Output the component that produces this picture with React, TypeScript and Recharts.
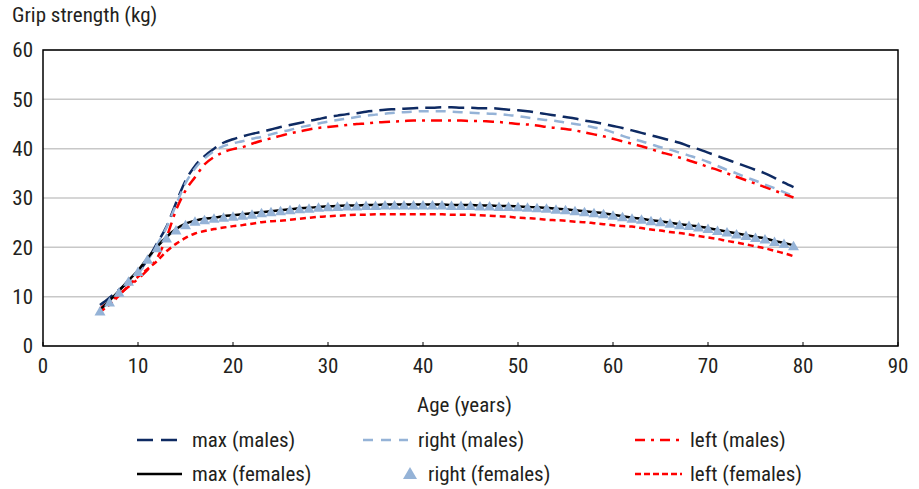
import React from 'react';
import { LineChart, Line, XAxis, YAxis, CartesianGrid, ReferenceArea } from 'recharts';

// ages 6..79, one value per year
const ages = [6, 7, 8, 9, 10, 11, 12, 13, 14, 15, 16, 17, 18, 19, 20, 21, 22, 23, 24, 25, 26, 27, 28, 29, 30, 31, 32, 33, 34, 35, 36, 37, 38, 39, 40, 41, 42, 43, 44, 45, 46, 47, 48, 49, 50, 51, 52, 53, 54, 55, 56, 57, 58, 59, 60, 61, 62, 63, 64, 65, 66, 67, 68, 69, 70, 71, 72, 73, 74, 75, 76, 77, 78, 79];

const maxMales = [8.3, 9.8, 11.4, 13.0, 14.8, 17.5, 20.8, 24.2, 29.0, 33.5, 36.5, 38.5, 40.0, 41.2, 41.9, 42.5, 43.0, 43.4, 43.9, 44.4, 44.8, 45.2, 45.6, 46.0, 46.4, 46.7, 47.0, 47.2, 47.5, 47.7, 47.9, 48.0, 48.1, 48.2, 48.3, 48.3, 48.4, 48.4, 48.3, 48.3, 48.2, 48.2, 48.1, 47.9, 47.8, 47.6, 47.3, 47.0, 46.7, 46.4, 46.1, 45.7, 45.4, 45.0, 44.6, 44.2, 43.7, 43.2, 42.7, 42.2, 41.7, 41.2, 40.5, 39.9, 39.2, 38.5, 37.8, 37.1, 36.4, 35.7, 35.0, 34.1, 33.1, 32.2];
const rightMales = [7.3, 9.2, 11.0, 12.8, 14.6, 17.3, 20.5, 24.0, 28.6, 33.0, 36.0, 38.0, 39.5, 40.5, 41.1, 41.5, 42.0, 42.4, 42.9, 43.4, 43.8, 44.3, 44.7, 45.1, 45.5, 45.8, 46.1, 46.4, 46.7, 46.9, 47.1, 47.3, 47.4, 47.5, 47.6, 47.6, 47.6, 47.5, 47.4, 47.3, 47.2, 47.1, 47.0, 46.8, 46.6, 46.3, 46.0, 45.8, 45.6, 45.3, 45.0, 44.7, 44.3, 43.9, 43.3, 42.6, 42.0, 41.5, 40.9, 40.3, 39.8, 39.2, 38.6, 38.0, 37.3, 36.5, 35.7, 35.0, 34.2, 33.5, 32.7, 32.0, 31.2, 30.4];
const leftMales = [7.6, 9.0, 10.5, 12.0, 13.6, 15.4, 17.8, 22.0, 27.5, 31.5, 34.2, 36.8, 38.3, 39.3, 39.9, 40.3, 41.0, 41.6, 42.1, 42.6, 43.1, 43.5, 43.9, 44.2, 44.4, 44.6, 44.8, 45.0, 45.1, 45.3, 45.4, 45.5, 45.6, 45.7, 45.7, 45.7, 45.7, 45.7, 45.7, 45.6, 45.6, 45.5, 45.4, 45.2, 45.0, 44.9, 44.7, 44.4, 44.2, 44.0, 43.7, 43.3, 42.9, 42.5, 42.0, 41.5, 41.0, 40.5, 39.9, 39.3, 38.8, 38.2, 37.6, 37.0, 36.3, 35.7, 35.0, 34.3, 33.6, 32.9, 32.2, 31.5, 30.8, 30.1];
const maxFemales = [7.3, 9.2, 11.2, 13.3, 15.3, 17.8, 20.1, 22.1, 23.7, 24.8, 25.4, 25.8, 26.0, 26.3, 26.5, 26.7, 26.9, 27.1, 27.3, 27.5, 27.7, 27.9, 28.0, 28.2, 28.3, 28.4, 28.5, 28.5, 28.6, 28.6, 28.7, 28.7, 28.7, 28.7, 28.7, 28.7, 28.7, 28.6, 28.6, 28.6, 28.5, 28.5, 28.4, 28.4, 28.3, 28.2, 28.1, 28.0, 27.8, 27.7, 27.5, 27.3, 27.1, 26.9, 26.6, 26.3, 26.0, 25.8, 25.5, 25.3, 25.0, 24.7, 24.5, 24.2, 23.9, 23.5, 23.2, 22.8, 22.5, 22.1, 21.8, 21.3, 20.9, 20.4];
const rightFemales = [7.0, 8.8, 10.8, 13.0, 15.0, 17.5, 19.8, 21.8, 23.4, 24.5, 25.2, 25.5, 25.8, 26.0, 26.2, 26.4, 26.6, 26.9, 27.1, 27.3, 27.5, 27.7, 27.8, 28.0, 28.1, 28.2, 28.3, 28.3, 28.4, 28.4, 28.5, 28.5, 28.5, 28.5, 28.5, 28.5, 28.5, 28.4, 28.4, 28.4, 28.3, 28.3, 28.2, 28.2, 28.1, 28.0, 27.9, 27.8, 27.6, 27.5, 27.3, 27.1, 26.9, 26.7, 26.4, 26.1, 25.8, 25.6, 25.3, 25.1, 24.8, 24.5, 24.3, 24.0, 23.7, 23.3, 23.0, 22.6, 22.3, 21.9, 21.6, 21.1, 20.7, 20.2];
const leftFemales = [6.9, 8.4, 10.2, 12.2, 14.0, 15.6, 17.2, 19.2, 20.7, 21.9, 22.8, 23.3, 23.7, 24.0, 24.3, 24.5, 24.8, 25.1, 25.3, 25.4, 25.6, 25.8, 26.0, 26.2, 26.3, 26.4, 26.5, 26.6, 26.6, 26.7, 26.7, 26.7, 26.7, 26.7, 26.7, 26.7, 26.7, 26.6, 26.6, 26.6, 26.5, 26.4, 26.3, 26.2, 26.0, 25.9, 25.8, 25.6, 25.5, 25.4, 25.2, 25.1, 24.9, 24.7, 24.5, 24.3, 24.2, 23.9, 23.6, 23.4, 23.1, 22.9, 22.6, 22.3, 22.0, 21.7, 21.3, 21.0, 20.6, 20.2, 19.8, 19.3, 18.8, 18.2];

const xTicks = [0, 10, 20, 30, 40, 50, 60, 70, 80, 90];
const yTicks = [0, 10, 20, 30, 40, 50, 60];

const data = ages.map((age, i) => ({
  age,
  maxMales: maxMales[i],
  rightMales: rightMales[i],
  leftMales: leftMales[i],
  maxFemales: maxFemales[i],
  rightFemales: rightFemales[i],
  leftFemales: leftFemales[i]
}));

const FONT = "'Liberation Sans Narrow', 'Arial Narrow', 'Roboto Condensed', 'Liberation Sans', Arial, sans-serif";
const FS = 21;
const TEXT = '#231f20';
const NAVY = '#0e2a62';
const LIGHT = '#95b3d7';
const RED = '#ff0000';

const Triangle = (props: any) => {
  const { cx, cy } = props;
  if (cx == null || cy == null) return null;
  return <path d={`M${cx},${cy - 5.5}L${cx + 5.5},${cy + 4}L${cx - 5.5},${cy + 4}Z`} fill={LIGHT} />;
};

const XTick = (props: any) => {
  const { x, y, payload } = props;
  return <g>
      <line x1={x} x2={x} y1={y} y2={y - 4} stroke="#000" strokeWidth={1} />
      <text x={x} y={y + 27} textAnchor="middle" fill={TEXT} fontSize={FS} fontFamily={FONT}>{payload.value}</text>
    </g>;
};

const legendItems = [
  { label: 'max (males)', x: 136, y: 440, kind: 'line', color: NAVY, dash: '16 8', w: 2.5 },
  { label: 'right (males)', x: 362, y: 440, kind: 'line', color: LIGHT, dash: '10 8', w: 2.5 },
  { label: 'left (males)', x: 634, y: 440, kind: 'line', color: RED, dash: '10 6 3 6', w: 2.5 },
  { label: 'max (females)', x: 136, y: 474, kind: 'line', color: '#000', dash: undefined, w: 2.5 },
  { label: 'right (females)', x: 362, y: 474, kind: 'tri', color: LIGHT, dash: undefined, w: 0 },
  { label: 'left (females)', x: 634, y: 474, kind: 'line', color: RED, dash: '6 3', w: 2.5 }
];

export default function App() {
  return <div style={{ position: 'absolute', left: 0, top: 0, width: 919, height: 489, background: '#fff', fontFamily: FONT, color: TEXT }}>
      <div style={{ position: 'absolute', left: 12, top: 3, fontSize: FS }}>Grip strength (kg)</div>
      <LineChart width={919} height={489} data={data} margin={{ top: 50, right: 21, bottom: 113, left: 0 }}>
        <CartesianGrid vertical={false} stroke="#c8c8c8" strokeWidth={1.5} />
        <XAxis dataKey="age" type="number" domain={[0, 90]} ticks={xTicks} height={30} axisLine={false} tickLine={false} tickSize={0} tickMargin={0} tick={<XTick />} interval={0} />
        <YAxis type="number" domain={[0, 60]} ticks={yTicks} width={43} axisLine={false} tickLine={false} tickSize={0} tickMargin={10} tick={{ fill: TEXT, fontSize: FS, fontFamily: FONT }} interval={0} />
        <ReferenceArea x1={0} x2={90} y1={0} y2={60} fill="none" stroke="#000" strokeWidth={1.5} ifOverflow="visible" />
        <Line type="monotone" dataKey="maxMales" stroke={NAVY} strokeWidth={2.5} strokeDasharray="16 7" dot={false} isAnimationActive={false} />
        <Line type="monotone" dataKey="rightMales" stroke={LIGHT} strokeWidth={2.5} strokeDasharray="10 7" dot={false} isAnimationActive={false} />
        <Line type="monotone" dataKey="leftMales" stroke={RED} strokeWidth={2.5} strokeDasharray="11 6 3 6" dot={false} isAnimationActive={false} />
        <Line type="monotone" dataKey="maxFemales" stroke="#000" strokeWidth={2.5} dot={false} isAnimationActive={false} />
        <Line type="monotone" dataKey="rightFemales" stroke="none" strokeWidth={0} dot={<Triangle />} activeDot={false} isAnimationActive={false} />
        <Line type="monotone" dataKey="leftFemales" stroke={RED} strokeWidth={2.5} strokeDasharray="6 4" dot={false} isAnimationActive={false} />
      </LineChart>
      <div style={{ position: 'absolute', left: 0, width: 919, top: 393, textAlign: 'center', fontSize: FS, paddingLeft: 10, boxSizing: 'border-box' }}>Age (years)</div>
      {legendItems.map(item => <div key={item.label} style={{ position: 'absolute', left: item.x, top: item.y - 13, height: 26, display: 'flex', alignItems: 'center', fontSize: FS, whiteSpace: 'nowrap' }}>
          <svg width={item.kind === 'tri' ? 58 : 48} height={22} style={{ marginRight: 8 }}>
            {item.kind === 'tri' ? <path d="M48,4L55,16L41,16Z" fill={item.color} /> : <line x1={1} x2={item.dash === '6 3' ? 48 : 46} y1={11} y2={11} stroke={item.color} strokeWidth={item.w} strokeDasharray={item.dash} />}
          </svg>
          <span>{item.label}</span>
        </div>)}
    </div>;
}
